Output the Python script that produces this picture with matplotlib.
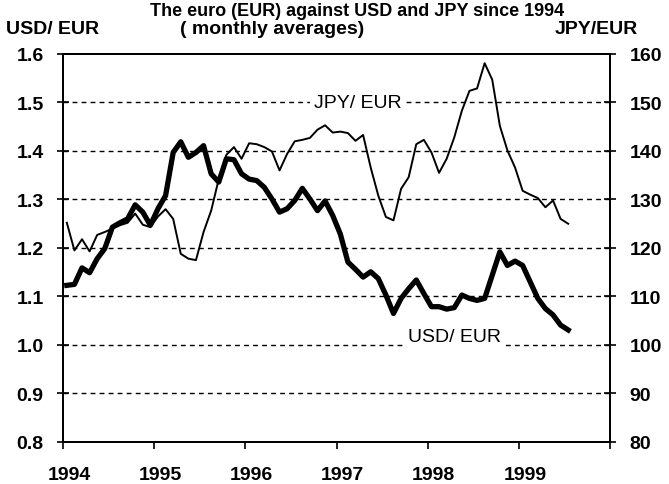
import numpy as np
import matplotlib
matplotlib.use("Agg")
import matplotlib.pyplot as plt
from matplotlib.transforms import ScaledTranslation

plt.rcParams["font.family"] = ["Liberation Sans", "DejaVu Sans"]

# monthly averages, Jan 1994 .. Jul 1999
usd_eur = [1.123, 1.125, 1.159, 1.149, 1.178, 1.199, 1.243, 1.252, 1.260, 1.289, 1.274, 1.247,
           1.281, 1.308, 1.397, 1.419, 1.387, 1.397, 1.411, 1.353, 1.336, 1.384, 1.382, 1.353,
           1.342, 1.339, 1.325, 1.301, 1.274, 1.281, 1.298, 1.323, 1.301, 1.277, 1.297, 1.267,
           1.229, 1.171, 1.156, 1.140, 1.151, 1.137, 1.103, 1.065, 1.096, 1.116, 1.134, 1.106,
           1.079, 1.079, 1.074, 1.077, 1.103, 1.096, 1.092, 1.096, 1.144, 1.192, 1.164, 1.173,
           1.164, 1.130, 1.096, 1.075, 1.062, 1.041, 1.031]
jpy_eur = [125.2, 119.5, 121.8, 119.3, 122.7, 123.3, 124.0, 124.7, 125.2, 127.1, 124.8, 124.3,
           126.5, 128.0, 126.0, 118.8, 117.8, 117.5, 123.3, 127.7, 134.2, 139.2, 140.8, 138.4,
           141.6, 141.4, 140.8, 139.9, 136.0, 139.4, 142.0, 142.3, 142.7, 144.4, 145.3, 143.8,
           144.0, 143.7, 142.1, 143.3, 136.6, 130.8, 126.4, 125.7, 132.2, 134.6, 141.4, 142.3,
           139.7, 135.5, 138.4, 142.8, 148.3, 152.4, 152.9, 158.1, 154.7, 145.2, 140.1, 136.6,
           131.8, 131.0, 130.3, 128.4, 129.8, 126.0, 125.0]
years = [1994, 1995, 1996, 1997, 1998, 1999]
usd_ticks = [0.8, 0.9, 1.0, 1.1, 1.2, 1.3, 1.4, 1.5, 1.6]
jpy_ticks = [80, 90, 100, 110, 120, 130, 140, 150, 160]

# points sit in the middle of each month
t = 1994 + (np.arange(len(usd_eur)) + 0.5) / 12

fig = plt.figure(figsize=(6.69, 4.85), dpi=100)
ax = fig.add_axes([0.0942, 0.0866, 0.8176, 0.80])
ax2 = ax.twinx()
ax.set_zorder(ax2.get_zorder() + 1)
ax.patch.set_visible(False)

ax2.plot(t, jpy_eur, color="black", lw=1.4)
ax.plot(t, usd_eur, color="black", lw=3.8, solid_joinstyle="round")

ax.set_xlim(1994, 2000)
ax.set_ylim(0.8, 1.6)
ax2.set_ylim(80, 160)
ax.set_xticks(years + [2000])
ax.set_xticklabels([str(y) for y in years] + [""])
ax.set_yticks(usd_ticks)
ax.set_yticklabels([f"{v:.1f}" for v in usd_ticks])
ax2.set_yticks(jpy_ticks)
ax2.set_yticklabels([str(v) for v in jpy_ticks])

for v in usd_ticks[1:-1]:
    ax.axhline(v, color="black", lw=1.0, ls=(0, (3.5, 3)), zorder=1)

for a in (ax, ax2):
    for s in a.spines.values():
        s.set_linewidth(1.4)
ax.tick_params(axis="y", direction="inout", length=8, width=1.2, pad=10, labelsize=14)
ax.tick_params(axis="x", direction="out", length=5, width=1.2, pad=12, labelsize=14)
ax2.tick_params(axis="y", direction="inout", length=8, width=1.2, pad=10, labelsize=14)
for lab in ax.get_yticklabels() + ax2.get_yticklabels() + ax.get_xticklabels():
    lab.set_fontweight("bold")
shift = ScaledTranslation(6 / 100, 0, fig.dpi_scale_trans)
for lab in ax.get_xticklabels():
    lab.set_transform(lab.get_transform() + shift)

box = dict(facecolor="white", edgecolor="none", pad=3)
ax.text(1997.23, 1.501, "JPY/ EUR", ha="center", va="center", fontsize=14, bbox=box, zorder=3)
ax.text(1998.29, 1.018, "USD/ EUR", ha="center", va="center", fontsize=14, bbox=box, zorder=3)

fig.text(0.534, 0.968, "The euro (EUR) against USD and JPY since 1994", ha="center",
         va="baseline", fontsize=13, fontweight="bold")
fig.text(0.009, 0.940, "USD/ EUR", ha="left", va="center", fontsize=14, fontweight="bold")
fig.text(0.407, 0.940, "( monthly averages)", ha="center", va="center", fontsize=14, fontweight="bold")
fig.text(0.891, 0.940, "JPY/EUR", ha="center", va="center", fontsize=14, fontweight="bold")

fig.savefig("out.png", dpi=100)
